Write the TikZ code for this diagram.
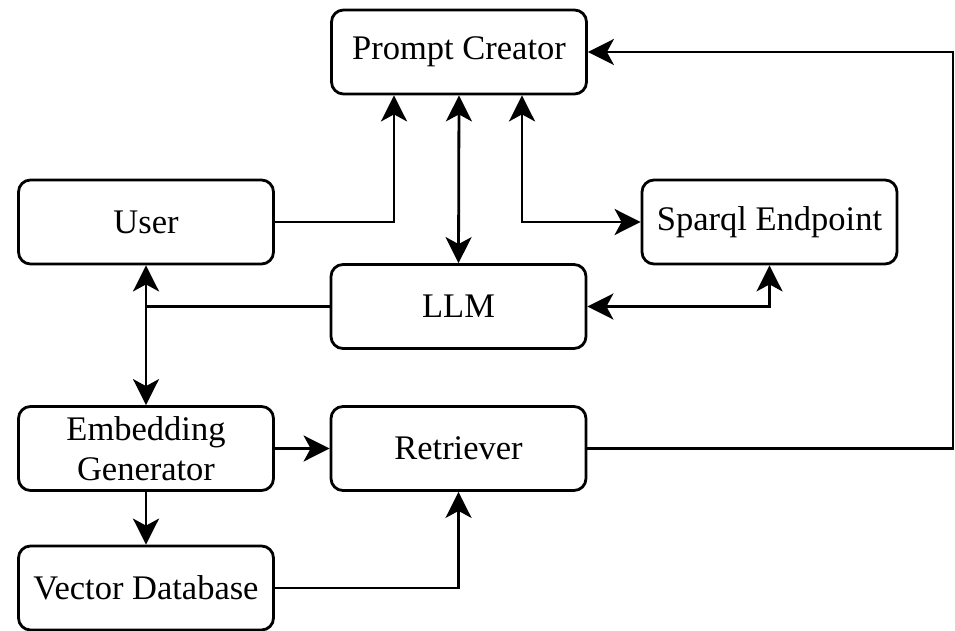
\documentclass[tikz,border=0pt]{standalone}
\usepackage{fontspec}
\setmainfont{Liberation Serif}
\usetikzlibrary{arrows.meta}
\begin{document}
\begin{tikzpicture}[x=1pt,y=-1pt,
  box/.style={draw, line width=2.8pt, rounded corners=12pt, minimum width=255pt, minimum height=84pt, inner sep=0pt, font=\fontsize{34.5}{40}\selectfont, align=center},
  conn/.style={line width=2.8pt, -{Stealth[length=26pt,width=26pt,inset=7pt]}},
  dconn/.style={line width=2.8pt, {Stealth[length=26pt,width=26pt,inset=7pt]}-{Stealth[length=26pt,width=26pt,inset=7pt]}},
  plain/.style={line width=2.8pt}]
\useasboundingbox (0,0) rectangle (955,631);
\node[box] (pc) at (459,52) {Prompt Creator};
\node[box] (user) at (146,222) {User};
\node[box] (sp) at (769.5,222) {Sparql Endpoint};
\node[box] (llm) at (458.5,306.5) {LLM};
\node[box] (emb) at (146,448.5) {Embedding\\Generator};
\node[box] (ret) at (458.5,448.5) {Retriever};
\node[box] (vdb) at (146,588) {Vector Database};
\coordinate (loop) at (953,448.5);
\draw[conn] (user.east) -| ([xshift=-65pt]pc.south);
\draw[dconn] (llm.north) -- (pc.south);
\draw[dconn] ([xshift=63pt]pc.south) |- (sp.west);
\draw[dconn] (llm.east) -| (sp.south);
\draw[dconn] (user.south) -- (emb.north);
\draw[plain] (llm.west) -- (llm.west -| user.south);
\draw[conn] (emb.east) -- (ret.west);
\draw[conn] (emb.south) -- (vdb.north);
\draw[conn] (vdb.east) -| (ret.south);
\draw[conn] (ret.east) -- (loop) |- (pc.east);
\end{tikzpicture}
\end{document}
